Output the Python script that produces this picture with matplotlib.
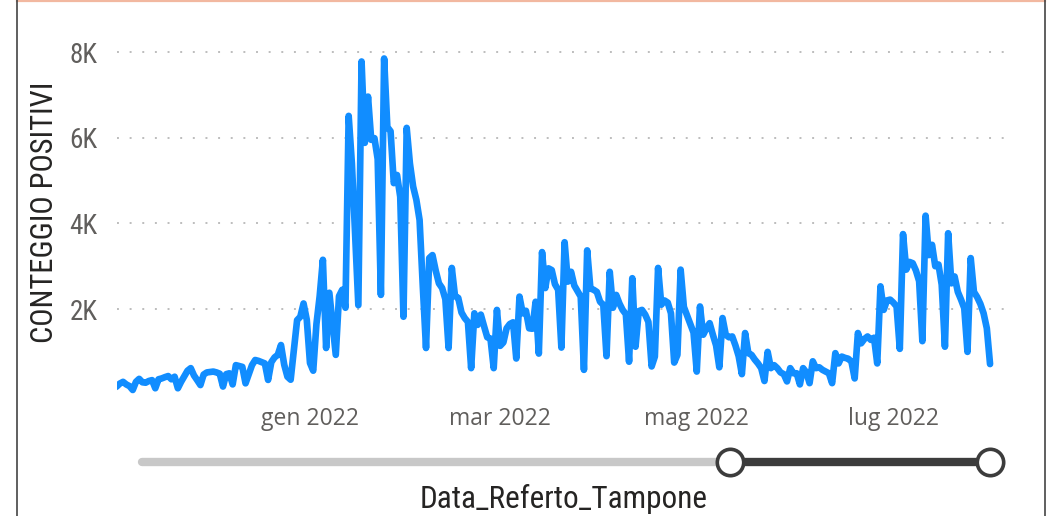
import numpy as np
import pandas as pd
import matplotlib
matplotlib.use("Agg")
import matplotlib.pyplot as plt
import matplotlib.dates as mdates
from matplotlib.lines import Line2D
from matplotlib import font_manager as fm

# ---------------- data (daily positive counts, week by week, Mon..Sun) ----------------
start_date = "2021-11-01"
wk_2021_11_01 = [150, 190, 260, 300, 240, 200, 110]
wk_2021_11_08 = [300, 370, 290, 280, 320, 340, 150]
wk_2021_11_15 = [360, 380, 410, 435, 360, 420, 150]
wk_2021_11_22 = [300, 430, 560, 620, 450, 340, 225]
wk_2021_11_29 = [470, 520, 530, 540, 520, 490, 190]
wk_2021_12_06 = [480, 500, 240, 690, 670, 650, 265]
wk_2021_12_13 = [480, 690, 810, 790, 760, 730, 345]
wk_2021_12_20 = [760, 870, 930, 1160, 700, 420, 350]
wk_2021_12_27 = [1050, 1740, 1820, 2130, 1750, 740, 560]
wk_2022_01_03 = [1650, 2300, 3150, 1090, 2380, 1650, 930]
wk_2022_01_10 = [2300, 2450, 2030, 6510, 5400, 3770, 2090]
wk_2022_01_17 = [7780, 5880, 6960, 5950, 5990, 5500, 2330]
wk_2022_01_24 = [7850, 6250, 6150, 4940, 5130, 4620, 1820]
wk_2022_01_31 = [6230, 5400, 4860, 4550, 4080, 2530, 1090]
wk_2022_02_07 = [3190, 3260, 2900, 2600, 2490, 2230, 1090]
wk_2022_02_14 = [2960, 2300, 2260, 1920, 1790, 1700, 620]
wk_2022_02_21 = [1900, 1630, 1870, 1600, 1340, 1310, 620]
wk_2022_02_28 = [1980, 1140, 1220, 1550, 1650, 1690, 845]
wk_2022_03_07 = [2290, 1900, 1960, 1550, 1540, 2170, 960]
wk_2022_03_14 = [3330, 2490, 2950, 2910, 2580, 2450, 1100]
wk_2022_03_21 = [3560, 2640, 2870, 2550, 2420, 2290, 580]
wk_2022_03_28 = [3370, 2480, 2450, 2400, 2170, 2100, 900]
wk_2022_04_04 = [2870, 2030, 2330, 2130, 1980, 1880, 770]
wk_2022_04_11 = [2720, 1120, 1950, 1980, 1870, 1700, 660]
wk_2022_04_18 = [890, 2960, 2100, 2200, 2150, 1900, 750]
wk_2022_04_25 = [930, 2920, 2050, 1850, 1650, 1450, 540]
wk_2022_05_02 = [2060, 1400, 1550, 1670, 1400, 1150, 640]
wk_2022_05_09 = [1790, 1400, 1340, 1360, 1150, 900, 480]
wk_2022_05_16 = [1440, 970, 930, 820, 730, 620, 320]
wk_2022_05_23 = [1000, 620, 690, 620, 520, 480, 310]
wk_2022_05_30 = [620, 500, 500, 240, 620, 520, 270]
wk_2022_06_06 = [780, 620, 640, 580, 540, 500, 270]
wk_2022_06_13 = [970, 730, 890, 860, 840, 770, 380]
wk_2022_06_20 = [1440, 1200, 1300, 1360, 1280, 1330, 730]
wk_2022_06_27 = [2530, 1980, 2200, 2220, 2150, 2060, 1070]
wk_2022_07_04 = [3750, 2920, 3100, 3070, 2900, 2650, 1250]
wk_2022_07_11 = [4180, 3260, 3500, 3000, 3040, 2570, 1120]
wk_2022_07_18 = [3770, 2600, 2760, 2400, 2220, 2020, 1000]
wk_2022_07_25 = [3190, 2400, 2280, 2120, 1900, 1550, 715]

weeks = [wk_2021_11_01, wk_2021_11_08, wk_2021_11_15, wk_2021_11_22, wk_2021_11_29,
         wk_2021_12_06, wk_2021_12_13, wk_2021_12_20, wk_2021_12_27, wk_2022_01_03,
         wk_2022_01_10, wk_2022_01_17, wk_2022_01_24, wk_2022_01_31, wk_2022_02_07,
         wk_2022_02_14, wk_2022_02_21, wk_2022_02_28, wk_2022_03_07, wk_2022_03_14,
         wk_2022_03_21, wk_2022_03_28, wk_2022_04_04, wk_2022_04_11, wk_2022_04_18,
         wk_2022_04_25, wk_2022_05_02, wk_2022_05_09, wk_2022_05_16, wk_2022_05_23,
         wk_2022_05_30, wk_2022_06_06, wk_2022_06_13, wk_2022_06_20, wk_2022_06_27,
         wk_2022_07_04, wk_2022_07_11, wk_2022_07_18, wk_2022_07_25]
positivi = [v for w in weeks for v in w]
dates = pd.date_range(start_date, periods=len(positivi), freq="D")

x_tick_dates = ["2022-01-01", "2022-03-01", "2022-05-01", "2022-07-01"]
x_tick_labels = ["gen 2022", "mar 2022", "mag 2022", "lug 2022"]
y_ticks = [2000, 4000, 6000, 8000]
y_tick_labels = ["2K", "4K", "6K", "8K"]
y_title = "CONTEGGIO POSITIVI"
x_title = "Data_Referto_Tampone"

# ---------------- fonts ----------------
names = {f.name for f in fm.fontManager.ttflist}
narrow = None
for cand in ["Liberation Sans Narrow", "DejaVu Sans Condensed", "Roboto Condensed"]:
    if cand in names:
        narrow = cand
        break
if narrow is not None:
    narrow_fp = dict(family=[narrow, "DejaVu Sans"])
else:
    narrow_fp = dict(family=["Roboto", "DejaVu Sans"])

# ---------------- figure ----------------
W, H = 1048, 516
fig = plt.figure(figsize=(W / 100, H / 100), dpi=100)
fig.patch.set_facecolor("white")

def fx(px):
    return px / W

def fy(py):
    return 1 - py / H

ymax = 8300
y0_px, px_per_k = 394.7, 42.83
top_px = y0_px - ymax / 1000 * px_per_k
ax_left, ax_right = 117, 1008
ax = fig.add_axes([fx(ax_left), fy(y0_px), fx(ax_right - ax_left), (y0_px - top_px) / H])
ax.set_facecolor("white")

d0 = mdates.date2num(pd.Timestamp(start_date))
ax.set_xlim(d0 + 1.12, d0 + 1.12 + (ax_right - ax_left) / 3.223)
ax.set_ylim(0, ymax)

ax.plot(dates, positivi, color="#118DFF", lw=4.8, solid_joinstyle="round",
        solid_capstyle="round", zorder=3)

for s in ax.spines.values():
    s.set_visible(False)

ax.set_yticks(y_ticks)
ax.set_yticklabels(y_tick_labels)
ax.yaxis.grid(True, linestyle=(0, (1, 5.5)), color="#BDBDBD", lw=1.4)
ax.set_axisbelow(True)
ax.set_xticks([mdates.date2num(pd.Timestamp(d)) for d in x_tick_dates])
ax.set_xticklabels(x_tick_labels)
ax.tick_params(axis="both", length=0)
ax.tick_params(axis="y", pad=14, labelsize=19.5, labelcolor="#605E5C")
ax.tick_params(axis="x", pad=9, labelsize=16.5, labelcolor="#605E5C")
for lab in ax.get_yticklabels():
    lab.set(**narrow_fp)
for lab in ax.get_xticklabels():
    lab.set_family(["Open Sans", "DejaVu Sans"])

# axis titles
fig.text(fx(45), fy(212), y_title, rotation=90, ha="center", va="center",
         fontsize=22, color="#252423", **narrow_fp)
fig.text(fx(564), fy(499), x_title, ha="center", va="center",
         fontsize=22.5, color="#252423", **narrow_fp)

# slider decoration
slider_y = 462
fig.add_artist(Line2D([fx(142), fx(730)], [fy(slider_y), fy(slider_y)], color="#C8C8C8",
                      lw=6, solid_capstyle="round", transform=fig.transFigure))
fig.add_artist(Line2D([fx(730), fx(990)], [fy(slider_y), fy(slider_y)], color="#3C3C3C",
                      lw=6, solid_capstyle="butt", transform=fig.transFigure))
for cx in (730, 990):
    fig.add_artist(Line2D([fx(cx)], [fy(slider_y)], marker="o", markersize=19,
                          markerfacecolor="white", markeredgecolor="#3C3C3C",
                          markeredgewidth=2.6, transform=fig.transFigure, linestyle="none"))

# frame lines
fig.add_artist(Line2D([fx(17), fx(1045)], [fy(0.8), fy(0.8)], color="#F2B8A0", lw=1.6,
                      transform=fig.transFigure))
fig.add_artist(Line2D([fx(17), fx(17)], [0, 1], color="#444444", lw=1.2, transform=fig.transFigure))
fig.add_artist(Line2D([fx(1045), fx(1045)], [0, 1], color="#444444", lw=1.2, transform=fig.transFigure))

fig.savefig("out.png", dpi=100, facecolor="white")
